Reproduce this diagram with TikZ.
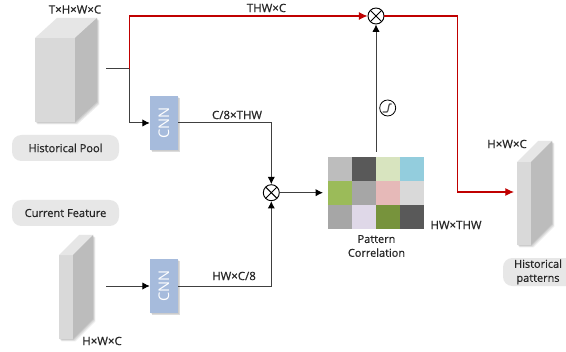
\documentclass[tikz,border=0pt]{standalone}
\usepackage{fontspec}
\setmainfont{Open Sans}
\newfontfamily\medf[FakeBold=0.6]{Open Sans}
\usetikzlibrary{arrows.meta,calc}
\definecolor{redline}{HTML}{C00000}
\definecolor{pillc}{HTML}{E7E7E7}
\definecolor{cnnc}{HTML}{A6BBDC}
\definecolor{slabfront}{HTML}{D9D9D9}
\definecolor{slabtop}{HTML}{E6E6E6}
\definecolor{slabside}{HTML}{BCBCBC}
\tikzset{
  x=0.75pt,y=-0.75pt,
  conn/.style={draw=black!75,line width=0.75pt},
  connar/.style={conn,-{Latex[length=5.5pt,width=5.5pt,color=black]}},
  redc/.style={draw=redline,line width=0.85pt},
  redar/.style={redc,-{Latex[length=6.5pt,width=6pt]}},
  lbl/.style={font=\fontsize{8.6pt}{10pt}\medf,text=black!85,inner sep=0pt,align=center},
  pill/.style={fill=pillc,rounded corners=7pt,inner sep=0pt,font=\fontsize{8.3pt}{10pt}\medf,text=black!85,align=center},
  cnnbox/.style={fill=cnnc,minimum width=21pt,minimum height=40.5pt,inner sep=0pt},
  cnntxt/.style={text=white,font=\fontsize{11pt}{11pt}\selectfont,rotate=90,inner sep=0pt},
  otimes/.style={circle,draw=black,line width=0.7pt,fill=white,minimum size=12pt,inner sep=0pt,
    path picture={\draw[black,line width=0.7pt] (path picture bounding box.north west)--(path picture bounding box.south east)
      (path picture bounding box.north east)--(path picture bounding box.south west);}},
  softshadow/.style={fill=black,opacity=0.07,draw=none},
}
\newcommand{\slab}[6]{% front x1 x2, y1 y2, depth dx dy
  \foreach \d in {0.8,1.6,2.4}{
    \fill[softshadow] (#1+\d,#3+\d) -- (#1+\d,#4+\d) -- (#2+\d,#4+\d) -- (#2+#5+\d,#4-#6+\d) -- (#2+#5+\d,#3-#6+\d) -- (#1+#5+\d,#3-#6+\d) -- cycle;}
  \fill[slabfront] (#1,#3) rectangle (#2,#4);
  \fill[slabtop] (#1,#3) -- (#1+#5,#3-#6) -- (#2+#5,#3-#6) -- (#2,#3) -- cycle;
  \fill[slabside] (#2,#3) -- (#2+#5,#3-#6) -- (#2+#5,#4-#6) -- (#2,#4) -- cycle;
}
\begin{document}
\begin{tikzpicture}
\useasboundingbox (0,0) rectangle (566,352);
\fill[white] (0,0) rectangle (566,352);

% blocks
\slab{35}{75}{38}{122}{22}{20}
\slab{59}{73}{255}{339}{20}{20}
\slab{517}{531}{162}{245}{21}{21}

\coordinate (pool) at (106,69);
\coordinate (cur) at (106,286);
\coordinate (hist) at (514,192);
\coordinate (fork) at (129.5,69);

% pills
\node[pill,minimum width=80.25pt,minimum height=19.5pt] (pillA) at (65.5,148) {Historical Pool};
\node[pill,minimum width=80.25pt,minimum height=19.5pt] (pillB) at (65.5,213) {Current Feature};
\fill[pillc,rounded corners=7pt] (503,258) rectangle (580,286);
\node[lbl,font=\fontsize{8.2pt}{10.5pt}\medf] (pillC) at (538,272) {Historical\\patterns};

% CNN
\foreach \cy in {123,286}{
  \foreach \d in {0.8,1.6,2.4}{\fill[softshadow] (150+\d,\cy-27+\d) rectangle (178+\d,\cy+27+\d);}
}
\node[cnnbox] (cnnA) at (164,123) {};
\node[cnnbox] (cnnB) at (164,286) {};
\node[cnntxt] (cnnAt) at (cnnA) {CNN};
\node[cnntxt] (cnnBt) at (cnnB) {CNN};

% multiply
\node[otimes] (mulT) at (376,16) {};
\node[otimes] (mulM) at (271.3,192.7) {};

% grid
\def\gx{328}\def\gy{157}
\foreach \c [count=\i from 0] in {BDBDBD,595959,D8E4BF,93CDDD,9BBB59,A6A6A6,E6B9B8,D9D9D9,A6A6A6,DFD8E8,77933C,595959}{
  \pgfmathtruncatemacro{\cc}{mod(\i,4)}
  \pgfmathtruncatemacro{\rr}{int(\i/4)}
  \definecolor{cellc}{HTML}{\c}
  \fill[cellc] (\gx+24*\cc,\gy+24*\rr) rectangle +(24,24);
}
\coordinate (gridW) at (323,192.7);
\coordinate (gridN) at (376,152);

% connectors
\draw[conn] (pool) -- (fork);
\draw[redar] (fork) |- (mulT.west);
\draw[connar] (fork) |- (cnnA.west);
\draw[connar] (cnnA.east) -| (mulM.north);
\draw[connar] (cur) -- (cnnB.west);
\draw[connar] (cnnB.east) -| (mulM.south);
\draw[connar] (mulM.east) -- (gridW);
\draw[connar] (gridN) -- (mulT.south);
\draw[redar] (mulT.east) -- (457.5,16) |- (hist);

% sigmoid icon
\node[circle,draw=black,line width=0.6pt,minimum size=12pt,inner sep=0pt,fill=white] (sig) at (387.7,108) {};
\draw[black!70,line width=0.9pt] ($(sig)+(-5,4)$) -- ($(sig)+(-0.8,4)$) .. controls ($(sig)+(0.8,4)$) and ($(sig)+(0.8,-4)$) .. ($(sig)+(2,-4)$) -- ($(sig)+(4,-4)$);

% labels
\node[lbl] (l1) at (75,9.5) {T×H×W×C};
\node[lbl] (l2) at (266.5,8) {THW×C};
\node[lbl] (l3) at (237,115) {C/8×THW};
\node[lbl] (l4) at (234,276) {HW×C/8};
\node[lbl] (l5) at (102,341) {H×W×C};
\node[lbl] (l6) at (456,225) {HW×THW};
\node[lbl,font=\fontsize{8.2pt}{10.4pt}\medf] (l7) at (376.5,246) {Pattern\\Correlation};
\node[lbl] (l8) at (507,144) {H×W×C};
\end{tikzpicture}
\end{document}
